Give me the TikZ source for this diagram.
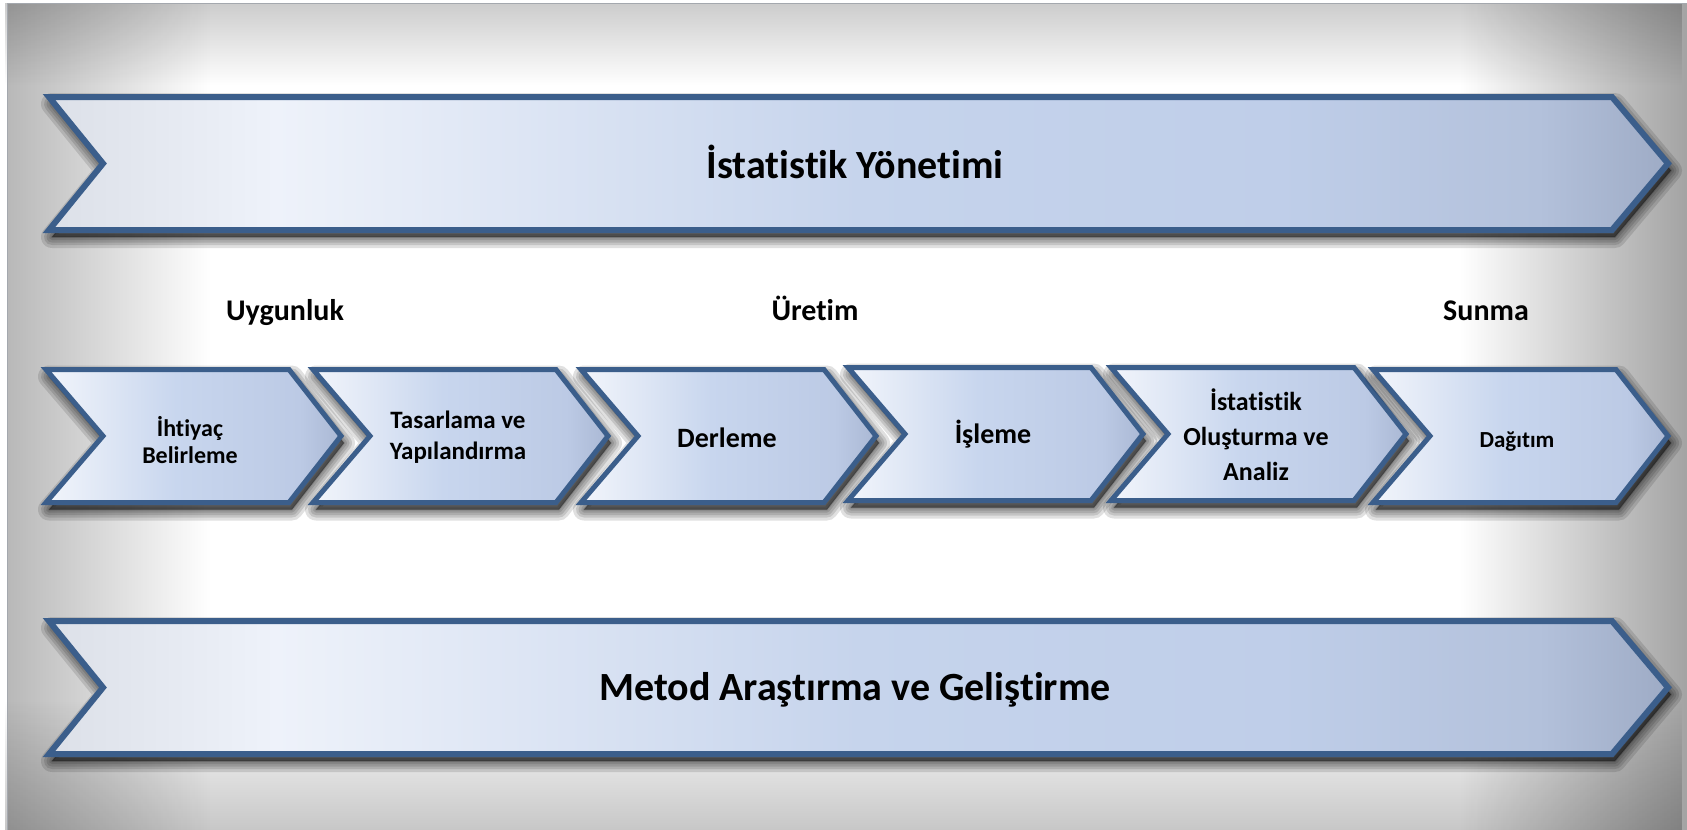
\documentclass[tikz,border=0pt]{standalone}
\usepackage{fontspec}
\setmainfont{Carlito}[Ligatures=NoCommon]
\usetikzlibrary{fadings}
\definecolor{edgeblue}{HTML}{3B5E8B}
\definecolor{frameline}{HTML}{A4A8AE}
\definecolor{bA}{HTML}{DCE0E8}
\definecolor{bB}{HTML}{EEF2FA}
\definecolor{bC}{HTML}{C6D4EC}
\definecolor{bD}{HTML}{BFCEE9}
\definecolor{bE}{HTML}{B3C1DB}
\definecolor{bF}{HTML}{9EABC5}
\definecolor{cA}{HTML}{F2F5FB}
\definecolor{cB}{HTML}{C8D6EE}
\definecolor{cC}{HTML}{BCCAE5}
\definecolor{cD}{HTML}{AAB8D4}
\pgfdeclarehorizontalshading{bannershade}{100bp}{color(0bp)=(bA); color(25bp)=(bA); color(32bp)=(bB); color(50bp)=(bC); color(63bp)=(bD); color(71bp)=(bE); color(75bp)=(bF); color(100bp)=(bF)}
\pgfdeclarehorizontalshading{chevshade}{100bp}{color(0bp)=(cA); color(25bp)=(cA); color(47bp)=(cB); color(68bp)=(cC); color(75bp)=(cD); color(100bp)=(cD)}
\tikzfading[name=fadeR, left color=transparent!0, right color=transparent!100]
\tikzfading[name=fadeL, left color=transparent!100, right color=transparent!0]
\tikzfading[name=fadeD, top color=transparent!0, bottom color=transparent!100]
\tikzfading[name=fadeU, top color=transparent!100, bottom color=transparent!0]
\newcommand\bannerpath[1]{(49,{97+#1}) -- (1612,{97+#1}) -- (1668,{163.5+#1}) -- (1612,{230+#1}) -- (49,{230+#1}) -- (103,{163.5+#1}) -- cycle}
\newcommand\chevpath[2]{({#1+6},{369.5+#2}) -- ({#1+249},{369.5+#2}) -- ({#1+301},{436+#2}) -- ({#1+249},{502.5+#2}) -- ({#1+6},{502.5+#2}) -- ({#1+63},{436+#2}) -- cycle}
\newcommand\bannershadow[1]{\foreach \w in {22,16,11,6,2}{\filldraw[black,opacity=0.12,line width=\w pt,line join=round,shift={(3,7)}] \bannerpath{#1};}}
\newcommand\chevshadow[2]{\foreach \w in {22,16,11,6,2}{\filldraw[black,opacity=0.12,line width=\w pt,line join=round,shift={(3,7)}] \chevpath{#1}{#2};}}
\begin{document}
\begin{tikzpicture}[x=1pt,y=-1pt,
  banner/.style={shading=bannershade, draw=edgeblue, line width=6pt},
  chev/.style={shading=chevshade, draw=edgeblue, line width=5pt},
  title/.style={font=\bfseries\fontsize{40}{48}\selectfont, inner sep=0pt, anchor=base},
  phase/.style={font=\bfseries\fontsize{30}{34}\selectfont, inner sep=0pt, anchor=base},
  steptxt/.style={inner sep=0pt, anchor=base, align=center}]
\useasboundingbox (0,0) rectangle (1687,830);
% background
\fill[white] (0,0) rectangle (1687,830);
\fill[black, opacity=0.28, path fading=fadeR] (7,3) rectangle (210,830);
\fill[black, opacity=0.36, path fading=fadeL] (1460,3) rectangle (1687,830);
\fill[black, opacity=0.20, path fading=fadeD] (7,3) rectangle (1687,85);
\fill[black, opacity=0.22, path fading=fadeU] (7,700) rectangle (1687,830);
\draw[frameline, line width=1.5pt] (7.5,3.5) rectangle (1720,860);
% top banner
\bannershadow{0}
\shadedraw[banner] \bannerpath{0};
\node[title] (t1) at (855,178) {İstatistik Yönetimi};
% phases
\node[phase] (p1) at (285,320) {Uygunluk};
\node[phase] (p2) at (815,320) {Üretim};
\node[phase] (p3) at (1486,320) {Sunma};
% chevrons
\chevshadow{40}{0}
\shadedraw[chev] \chevpath{40}{0};
\chevshadow{307}{0}
\shadedraw[chev] \chevpath{307}{0};
\chevshadow{575}{0}
\shadedraw[chev] \chevpath{575}{0};
\chevshadow{842}{-2}
\shadedraw[chev] \chevpath{842}{-2};
\chevshadow{1105}{-2}
\shadedraw[chev] \chevpath{1105}{-2};
\chevshadow{1367}{0}
\shadedraw[chev] \chevpath{1367}{0};
\node[steptxt, font=\bfseries\fontsize{24}{27}\selectfont] (s1) at (190,463) {İhtiyaç\\Belirleme};
\node[steptxt, font=\bfseries\fontsize{25}{31}\selectfont] (s2) at (458,459) {Tasarlama ve\\Yapılandırma};
\node[steptxt, font=\bfseries\fontsize{28}{32}\selectfont] (s3) at (727,447) {Derleme};
\node[steptxt, font=\bfseries\fontsize{28}{32}\selectfont] (s4) at (993,443) {İşleme};
\node[steptxt, font=\bfseries\fontsize{26}{35}\selectfont] (s5) at (1256,480) {İstatistik\\Oluşturma ve\\Analiz};
\node[steptxt, font=\bfseries\fontsize{23}{27}\selectfont] (s6) at (1517,447) {Dağıtım};
% bottom banner
\bannershadow{524}
\shadedraw[banner] \bannerpath{524};
\node[title] (t2) at (855,700) {Metod Araştırma ve Geliştirme};
\end{tikzpicture}
\end{document}
